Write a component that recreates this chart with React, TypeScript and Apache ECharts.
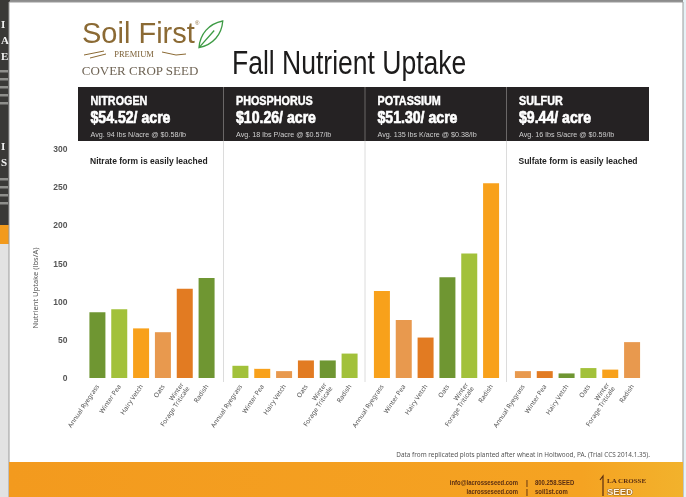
import React, { useEffect, useRef } from "react";
import * as echarts from "echarts";

const categories = ["Annual Ryegrass", "Winter Pea", "Hairy Vetch", "Oats", "Winter\nForage Triticale", "Radish"];
const nitrogen = [86, 90, 65, 60, 117, 131];
const phosphorus = [16, 12, 9, 23, 23, 32];
const potassium = [114, 76, 53, 132, 163, 255];
const sulfur = [9, 9, 6, 13, 11, 47];
const yTicks = [0, 50, 100, 150, 200, 250, 300];

const panelNames = ["NITROGEN", "PHOSPHORUS", "POTASSIUM", "SULFUR"];
const panelPrices = ["$54.52/ acre", "$10.26/ acre", "$51.30/ acre", "$9.44/ acre"];
const panelAvg = [
  "Avg. 94 lbs N/acre @ $0.58/lb",
  "Avg. 18 lbs P/acre @ $0.57/lb",
  "Avg. 135 lbs K/acre @ $0.38/lb",
  "Avg. 16 lbs S/acre @ $0.59/lb",
];
const notes = ["Nitrate form is easily leached", "", "", "Sulfate form is easily leached"];

const palette = ["#6f9632", "#a2c13a", "#f8a11b", "#e8994e", "#e27b22"];

const LEAF = "M0,28 C1,14 10,3 25,0 C24,14 15,25 0,28 Z M0,28 L16,10";
echarts.graphic.registerShape("leaf", echarts.graphic.extendPath(LEAF, {}) as any);

export default function App() {
  const ref = useRef<HTMLDivElement>(null);
  useEffect(() => {
    if (!ref.current) return;
    document.body.style.margin = "0";
    const chart = echarts.init(ref.current, undefined, { renderer: "svg" });
    const series = [nitrogen, phosphorus, potassium, sulfur];
    const lefts = [86.5, 229.5, 371, 512];
    const grids = lefts.map((l) => ({ left: l, top: 149, width: 131, height: 229 }));
    const xAxes = lefts.map((_, i) => ({
      type: "category",
      gridIndex: i,
      data: categories,
      axisLine: { show: false },
      axisTick: { show: false },
      axisLabel: {
        interval: 0,
        rotate: 56,
        fontSize: 6.5,
        lineHeight: 7,
        color: "#555",
        fontFamily: "Noto Sans",
        margin: 7,
      },
    }));
    const yAxes = lefts.map((_, i) => ({
      type: "value",
      gridIndex: i,
      min: yTicks[0],
      max: yTicks[yTicks.length - 1],
      interval: 50,
      splitLine: { show: false },
      axisLine: { show: false },
      axisTick: { show: false },
      axisLabel: {
        show: i === 0,
        fontSize: 8.5,
        fontWeight: "bold",
        color: "#555",
        fontFamily: "Liberation Sans",
        margin: 19,
      },
    }));
    const barSeries = series.map((vals, i) => ({
      type: "bar",
      xAxisIndex: i,
      yAxisIndex: i,
      barWidth: 16,
      data: vals.map((v, j) => ({ value: v, itemStyle: { color: palette[(i * 6 + j) % 5] } })),
    }));

    const mid = { verticalAlign: "middle", textVerticalAlign: "middle" };
    const dividers = [78, 223.5, 365, 506.5, 649];
    const g: any[] = [];
    g.push({ type: "rect", shape: { x: 0, y: 0, width: 686, height: 497 }, style: { fill: "#8c8c8c" } });
    g.push({ type: "rect", shape: { x: 0, y: 0, width: 10, height: 225 }, style: { fill: "#3a3937" } });
    g.push({ type: "rect", shape: { x: 0, y: 225, width: 10, height: 19 }, style: { fill: "#f29a1c" } });
    g.push({ type: "rect", shape: { x: 0, y: 244, width: 10, height: 253 }, style: { fill: "#e2e2e2" } });
    const stripTexts: [string, number][] = [
      ["I", 24], ["A", 40], ["E", 56], ["I", 146], ["S", 162],
    ];
    stripTexts.forEach(([t, y]) =>
      g.push({
        type: "text",
        x: 1,
        y,
        style: { text: t, fill: "#f2f2f2", font: 'bold 11px "Liberation Serif"', ...mid },
      })
    );
    [70, 78, 86, 94, 102, 178, 186, 194, 202].forEach((y) =>
      g.push({ type: "rect", shape: { x: 0, y, width: 8, height: 2.5 }, style: { fill: "#8f8f8c" } })
    );
    g.push({ type: "rect", shape: { x: 683, y: 0, width: 3, height: 497 }, style: { fill: "#e6f2f6" } });
    g.push({ type: "rect", shape: { x: 9, y: 2, width: 674, height: 495 }, style: { fill: "#ffffff", stroke: "#9a9a9a", lineWidth: 1 } });

    // logo
    g.push({
      type: "text",
      x: 82,
      y: 47,
      style: { text: "Soil First", fill: "#8b6a34", font: '29px "Liberation Sans"', verticalAlign: "bottom", textVerticalAlign: "bottom" },
    });
    g.push({ type: "text", x: 195, y: 20, style: { text: "®", fill: "#8b6a34", font: "6px sans-serif" } });
    g.push({
      type: "leaf",
      x: 199,
      y: 21,
      scaleX: 0.95,
      scaleY: 0.95,
      style: { fill: "none", stroke: "#3e9b45", lineWidth: 1.4 },
    });
    g.push({
      type: "text",
      x: 134,
      y: 54,
      style: { text: "PREMIUM", fill: "#7b5f35", font: '8.5px "Liberation Serif"', align: "center", textAlign: "center", ...mid },
    });
    g.push({ type: "polyline", shape: { points: [[84, 55], [104, 51]] }, style: { stroke: "#8b6a34", lineWidth: 1 } });
    g.push({ type: "polyline", shape: { points: [[90, 58], [106, 54]] }, style: { stroke: "#8b6a34", lineWidth: 1 } });
    g.push({ type: "polyline", shape: { points: [[162, 52], [176, 55], [186, 54]] }, style: { stroke: "#8b6a34", lineWidth: 1 } });
    g.push({
      type: "text",
      x: 140,
      y: 70,
      style: { text: "COVER CROP SEED", fill: "#6f6455", font: '13px "Liberation Serif"', align: "center", textAlign: "center", ...mid },
    });

    // title
    g.push({
      type: "text",
      x: 232,
      y: 62,
      scaleX: 0.78,
      style: { text: "Fall Nutrient Uptake", fill: "#1c1b1b", font: '34px "Liberation Sans"', ...mid },
    });

    // header
    g.push({ type: "rect", shape: { x: 78, y: 87, width: 571, height: 54 }, style: { fill: "#252223" } });
    [223.5, 365, 506.5].forEach((x) =>
      g.push({ type: "line", shape: { x1: x, y1: 87, x2: x, y2: 141 }, style: { stroke: "#6a6767", lineWidth: 1 } })
    );
    [223.5, 365, 506.5].forEach((x) =>
      g.push({ type: "line", shape: { x1: x, y1: 141, x2: x, y2: 382 }, style: { stroke: "#dcdcdc", lineWidth: 1 } })
    );
    for (let i = 0; i < 4; i++) {
      const x = dividers[i] + 12.5;
      g.push({
        type: "text", x, y: 101, scaleX: 0.83,
        style: { text: panelNames[i], fill: "#ffffff", stroke: "#ffffff", lineWidth: 0.5, font: 'bold 13px "Liberation Sans"', ...mid },
      });
      g.push({
        type: "text", x, y: 117, scaleX: 0.83,
        style: { text: panelPrices[i], fill: "#ffffff", stroke: "#ffffff", lineWidth: 0.7, font: 'bold 17px "Liberation Sans"', ...mid },
      });
      g.push({
        type: "text", x, y: 134.5, scaleX: 0.9,
        style: { text: panelAvg[i], fill: "#cfcfcf", font: '8px "Liberation Sans"', ...mid },
      });
      if (notes[i]) {
        g.push({
          type: "text", x: dividers[i] + 12, y: 161,
          style: { text: notes[i], fill: "#222222", font: 'bold 8.5px "Liberation Sans"', ...mid },
        });
      }
    }

    g.push({
      type: "text",
      x: 35,
      y: 288,
      rotation: Math.PI / 2,
      style: { text: "Nutrient Uptake (lbs/A)", fill: "#555", font: '7.5px "Noto Sans"', align: "center", textAlign: "center", ...mid },
    });

    g.push({
      type: "text",
      x: 650,
      y: 454,
      style: {
        text: "Data from replicated plots planted after wheat in Holtwood, PA. (Trial CCS 2014.1.35).",
        fill: "#555",
        font: '6.4px "Noto Sans"',
        align: "right",
        textAlign: "right",
        ...mid,
      },
    });

    g.push({
      type: "rect",
      shape: { x: 9, y: 462, width: 674, height: 35 },
      style: {
        fill: new echarts.graphic.LinearGradient(0, 0, 1, 0, [
          { offset: 0, color: "#f39a1e" },
          { offset: 0.85, color: "#f5a322" },
          { offset: 1, color: "#f2b22c" },
        ]),
      },
    });
    const ft = 'bold 7px "Liberation Sans"';
    const fsx = 0.85;
    g.push({ type: "text", x: 518, y: 482, scaleX: fsx, style: { text: "info@lacrosseseed.com", fill: "#5a2e12", font: ft, align: "right", textAlign: "right", ...mid } });
    g.push({ type: "text", x: 518, y: 491, scaleX: fsx, style: { text: "lacrosseseed.com", fill: "#5a2e12", font: ft, align: "right", textAlign: "right", ...mid } });
    g.push({ type: "text", x: 527, y: 482, style: { text: "|", fill: "#5a2e12", font: ft, align: "center", textAlign: "center", ...mid } });
    g.push({ type: "text", x: 527, y: 491, style: { text: "|", fill: "#5a2e12", font: ft, align: "center", textAlign: "center", ...mid } });
    g.push({ type: "text", x: 535, y: 482, scaleX: fsx, style: { text: "800.258.SEED", fill: "#5a2e12", font: ft, ...mid } });
    g.push({ type: "text", x: 535, y: 491, scaleX: fsx, style: { text: "soil1st.com", fill: "#5a2e12", font: ft, ...mid } });
    g.push({ type: "polyline", shape: { points: [[603, 496], [603, 476], [600, 480]] }, style: { stroke: "#5a2e12", lineWidth: 1.2, fill: "none" } });
    g.push({ type: "text", x: 607, y: 481, style: { text: "LA CROSSE", fill: "#5a2e12", font: 'bold 7px "Liberation Serif"', ...mid } });
    g.push({ type: "text", x: 607, y: 491, style: { text: "SEED", fill: "#fff3dc", stroke: "#5a2e12", lineWidth: 0.6, font: 'bold 9.5px "Liberation Sans"', ...mid } });

    chart.setOption({
      animation: false,
      graphic: { elements: g.map((e) => ({ ...e, silent: true, z: -10 })) },
      grid: grids,
      xAxis: xAxes,
      yAxis: yAxes,
      series: barSeries,
    } as any);
    return () => chart.dispose();
  }, []);
  return <div ref={ref} style={{ position: "fixed", left: 0, top: 0, width: 686, height: 497 }} />;
}
